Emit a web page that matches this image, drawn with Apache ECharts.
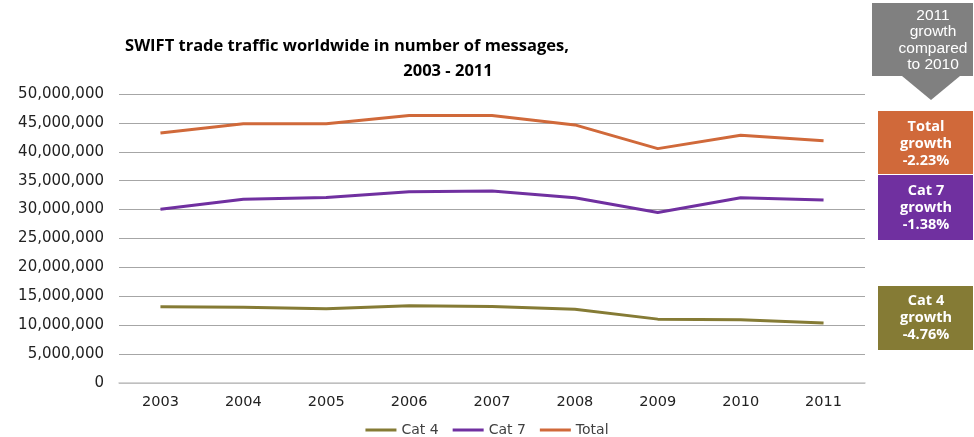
<!DOCTYPE html>
<html>
<head>
<meta charset="utf-8">
<script src="https://cdn.jsdelivr.net/npm/echarts@6/dist/echarts.min.js"></script>
<style>
html,body{margin:0;padding:0;background:#fff;}
#chart{width:974px;height:437px;}
</style>
</head>
<body>
<div id="chart"></div>
<script>
const years = ['2003','2004','2005','2006','2007','2008','2009','2010','2011'];
const cat4 = [13200000,13100000,12850000,13350000,13250000,12750000,11050000,10950000,10400000];
const cat7 = [30050000,31800000,32100000,33100000,33200000,32050000,29500000,32050000,31650000];
const total = [43250000,44850000,44850000,46300000,46300000,44650000,40550000,42850000,41900000];
const titleLine1 = 'SWIFT trade traffic worldwide in number of messages,';
const titleLine2 = '2003 - 2011';
const boxTexts = ['Total\ngrowth\n-2.23%', 'Cat 7\ngrowth\n-1.38%', 'Cat 4\ngrowth\n-4.76%'];
const headerText = '2011\ngrowth\ncompared\nto 2010';

const cOrange = '#D0693A', cPurple = '#7030A0', cOlive = '#857B35', cGray = '#808080';
const font = '"Open Sans", "Noto Sans", sans-serif';
const axFont = '"DejaVu Sans", sans-serif';

const chart = echarts.init(document.getElementById('chart'));
chart.setOption({
  animation: false,
  backgroundColor: '#fff',
  title: [
    {text: titleLine1, left: 342, top: 33, textAlign: 'center',
     textStyle: {fontFamily: font, fontSize: 16.5, fontWeight: 'bold', color: '#000'}},
    {text: titleLine2, left: 443, top: 58, textAlign: 'center',
     textStyle: {fontFamily: font, fontSize: 16.5, fontWeight: 'bold', color: '#000'}}
  ],
  legend: {
    top: 418, left: 'center', itemWidth: 31, itemHeight: 3, itemGap: 14,
    icon: 'rect',
    textStyle: {fontFamily: axFont, fontSize: 14, color: '#404040'},
    data: ['Cat 4','Cat 7','Total']
  },
  grid: {left: 119, right: 109, top: 94, bottom: 54},
  xAxis: {
    type: 'category', data: years, boundaryGap: true,
    axisTick: {show: false},
    axisLine: {lineStyle: {color: '#c8c8c8', width: 1.5}},
    axisLabel: {fontFamily: axFont, fontSize: 14.5, color: '#222', margin: 12}
  },
  yAxis: {
    type: 'value', min: 0, max: 50000000, interval: 5000000,
    axisLine: {show: false}, axisTick: {show: false},
    splitLine: {lineStyle: {color: '#a6a6a6', width: 1}},
    axisLabel: {fontFamily: axFont, fontSize: 15, color: '#222', margin: 15,
      formatter: v => v.toLocaleString('en-US')}
  },
  series: [
    {name: 'Cat 4', type: 'line', data: cat4, symbol: 'none', lineStyle: {width: 3, color: cOlive}, itemStyle: {color: cOlive}},
    {name: 'Cat 7', type: 'line', data: cat7, symbol: 'none', lineStyle: {width: 3, color: cPurple}, itemStyle: {color: cPurple}},
    {name: 'Total', type: 'line', data: total, symbol: 'none', lineStyle: {width: 3, color: cOrange}, itemStyle: {color: cOrange}}
  ],
  graphic: [
    {type: 'rect', shape: {x: 872, y: 3, width: 101, height: 73}, style: {fill: cGray}},
    {type: 'polygon', shape: {points: [[902,76],[960,76],[931,100]]}, style: {fill: cGray}},
    {type: 'text', x: 933, y: 40, style: {text: headerText, fill: '#fff', font: '15.5px "Liberation Sans", Arial, sans-serif', lineHeight: 16.5, align: 'center', verticalAlign: 'middle'}},
    {type: 'rect', shape: {x: 878, y: 111, width: 95, height: 63}, style: {fill: cOrange}},
    {type: 'text', x: 926, y: 144, style: {text: boxTexts[0], fill: '#fff', font: 'bold 14.5px ' + font, lineHeight: 17, align: 'center', verticalAlign: 'middle'}},
    {type: 'rect', shape: {x: 878, y: 175, width: 95, height: 65}, style: {fill: cPurple}},
    {type: 'text', x: 926, y: 208, style: {text: boxTexts[1], fill: '#fff', font: 'bold 14.5px ' + font, lineHeight: 17, align: 'center', verticalAlign: 'middle'}},
    {type: 'rect', shape: {x: 878, y: 286, width: 95, height: 64}, style: {fill: cOlive}},
    {type: 'text', x: 926, y: 318, style: {text: boxTexts[2], fill: '#fff', font: 'bold 14.5px ' + font, lineHeight: 17, align: 'center', verticalAlign: 'middle'}}
  ]
});
</script>
</body>
</html>
